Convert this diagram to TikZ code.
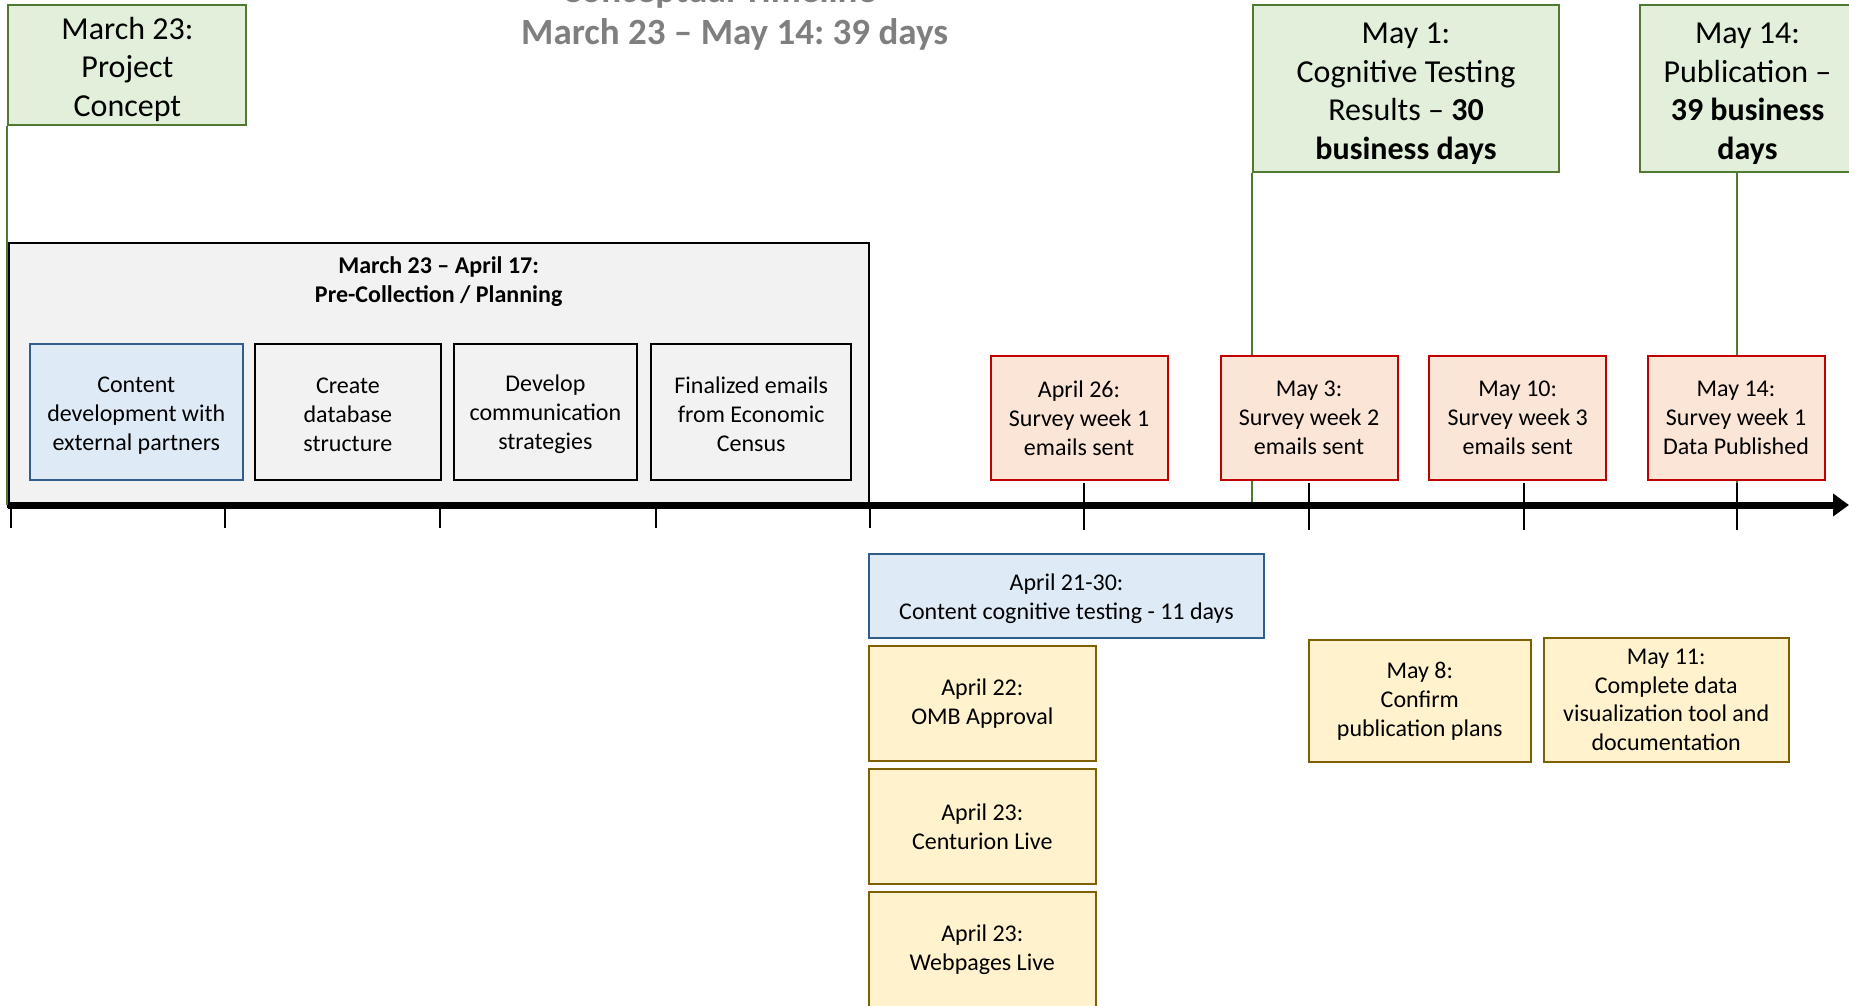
\documentclass[tikz,border=0pt]{standalone}
\usepackage{fontspec}
\setmainfont{Carlito}
\usetikzlibrary{positioning,arrows.meta}
\frenchspacing

\definecolor{greenfill}{HTML}{E2EFDA}
\definecolor{greendraw}{HTML}{4F7A2F}
\definecolor{grayfill}{HTML}{F2F2F2}
\definecolor{bluefill}{HTML}{DEEBF7}
\definecolor{bluedraw}{HTML}{2F5D8C}
\definecolor{redfill}{HTML}{FBE5D6}
\definecolor{reddraw}{HTML}{C00000}
\definecolor{yellowfill}{HTML}{FFF2CC}
\definecolor{yellowdraw}{HTML}{7F6000}
\definecolor{titlegray}{HTML}{7F7F7F}

% pushes the first line of a box down a little
\newcommand{\topgap}[1]{\rule{0pt}{#1}}

\begin{document}
\begin{tikzpicture}[x=0.5pt,y=-0.5pt]

% definitions
\tikzstyle{milestone} = [rectangle, minimum width=119pt, minimum height=60pt, text centered, align=center, draw=greendraw, fill=greenfill, line width=1pt, inner sep=0pt, font=\fontsize{16}{19.4}\selectfont]

\tikzstyle{planning} = [rectangle, text centered, draw=black, fill=grayfill, line width=1.2pt, inner sep=0pt]

\tikzstyle{task} = [rectangle, minimum height=68pt, text centered, align=center, draw=black, fill=grayfill, line width=1pt, inner sep=0pt, font=\fontsize{12}{14.5}\selectfont]

\tikzstyle{partner} = [task, draw=bluedraw, fill=bluefill]

\tikzstyle{survey} = [rectangle, minimum width=88.5pt, minimum height=62pt, text centered, align=center, draw=reddraw, fill=redfill, line width=1pt, inner sep=0pt, font=\fontsize{12}{14.5}\selectfont]

\tikzstyle{testing} = [rectangle, minimum width=197.5pt, minimum height=42pt, text centered, align=center, draw=bluedraw, fill=bluefill, line width=1pt, inner sep=0pt, font=\fontsize{12}{14.2}\selectfont]

\tikzstyle{launch} = [rectangle, minimum width=113.3pt, minimum height=57.3pt, text centered, align=center, draw=yellowdraw, fill=yellowfill, line width=1pt, inner sep=0pt, font=\fontsize{12}{12}\selectfont]

\tikzstyle{heading} = [anchor=base, text=titlegray, font=\fontsize{18.5}{22}\selectfont\bfseries]

\tikzstyle{greenlink} = [draw=greendraw, line width=1pt]

\tikzstyle{timeaxis} = [-{Triangle[length=8pt,width=11pt]}, line width=3.5pt]

\tikzstyle{daytick} = [line width=1pt]

\useasboundingbox (0,0) rectangle (1849,1006);

% the graph
\node (toptitle) [heading] at (719,3) {Conceptual Timeline};
\node (title) [heading] at (734.6,45) {March 23 -- May 14: 39 days};

\node (concept) [milestone] at (127.4,65) {\topgap{15.5pt}March 23:\\ Project\\ Concept};

\node (cogres) [milestone, minimum width=152.8pt, minimum height=83.7pt] at (1406,88.5) {\topgap{15.5pt}May 1:\\ Cognitive Testing\\ Results -- \textbf{30}\\ \textbf{business days}};

\node (publish) [milestone, minimum width=107.5pt, minimum height=83.7pt] at (1747.5,88.5) {\topgap{15.5pt}May 14:\\ Publication --\\ \textbf{39 business}\\ \textbf{days}};

\node (plan) [planning, minimum width=430.4pt, minimum height=132pt] at (438.7,375) {};
\node (planhead) [align=center, inner sep=0pt, font=\fontsize{12}{14.3}\selectfont\bfseries] at (438.7,281.7) {March 23 -- April 17:\\ Pre-Collection / Planning};

\node (content) [partner, minimum width=106.8pt] at (136.3,412) {\topgap{11pt}Content\\ development with\\ external partners};
\node (database) [task, minimum width=93.2pt] at (347.9,412) {\topgap{11pt}Create\\ database\\ structure};
\node (comms) [task, minimum width=91.4pt] at (545.4,412) {\topgap{11pt}Develop\\ communication\\ strategies};
\node (emails) [task, minimum width=100.2pt] at (751.2,412) {\topgap{11pt}Finalized emails\\ from Economic\\ Census};

% milestone links
\coordinate (t0) at (8.3,505);
\coordinate (tend) at (1849,505);
\draw [greenlink] (concept.south west) -- (concept.south west |- t0);
\draw [greenlink] (cogres.south west) -- (cogres.south west |- t0);
\draw [greenlink] (1737,172.2) -- (1737,505);

\node (week1) [survey] at (1079,418) {April 26:\\ Survey week 1\\ emails sent};
\node (week2) [survey] at (1309,418) {May 3:\\ Survey week 2\\ emails sent};
\node (week3) [survey] at (1517.7,418) {May 10:\\ Survey week 3\\ emails sent};
\node (data1) [survey] at (1736,418) {May 14:\\ Survey week 1\\ Data Published};

% time line
\draw [timeaxis] (t0) -- (tend);
\foreach \x in {10.6,225,440,656,870}
  \draw [daytick] (\x,505) -- (\x,528);
\foreach \x in {1084,1309,1524,1737}
  \draw [daytick] (\x,483) -- (\x,530);

\node (cogtest) [testing] at (1066.5,596) {\topgap{11pt}April 21-30:\\ Content cognitive testing - 11 days};

\node (omb) [launch] at (982.3,703.3) {April 22:\\[2.5pt] OMB Approval};
\node (centurion) [launch, below=3.2pt of omb] {April 23:\\[2.5pt] Centurion Live};
\node (webpages) [launch, below=3.2pt of centurion] {April 23:\\[2.5pt] Webpages Live};

\node (confirm) [launch, minimum width=110.8pt, minimum height=60.9pt, font=\fontsize{12}{14.5}\selectfont] at (1419.8,701) {May 8:\\ Confirm\\ publication plans};
\node (vistool) [launch, minimum width=122.6pt, minimum height=61.9pt, font=\fontsize{12}{14.3}\selectfont] at (1666.2,700) {May 11:\\ Complete data\\ visualization tool and\\ documentation};

\end{tikzpicture}
\end{document}
